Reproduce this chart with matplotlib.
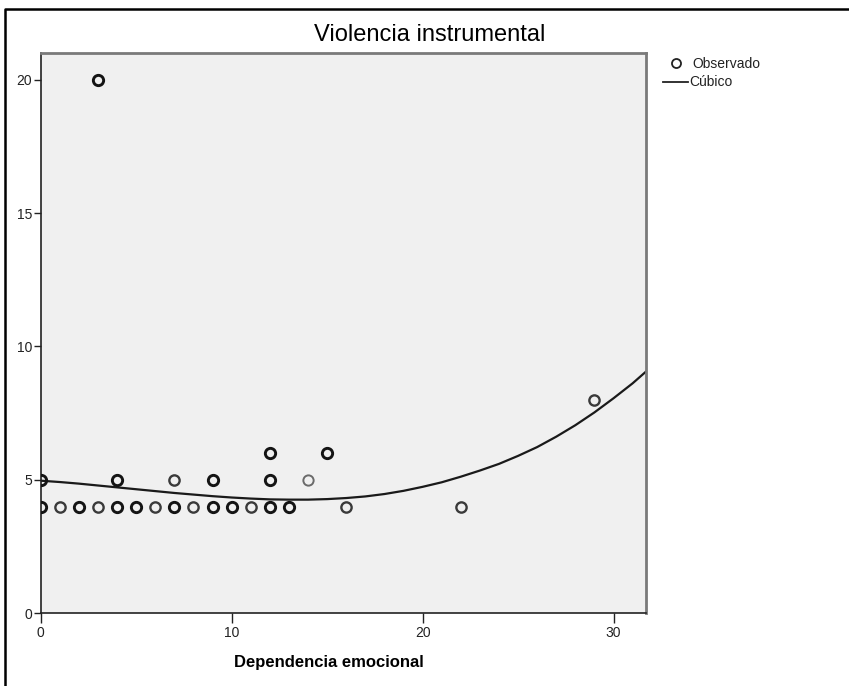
import matplotlib
matplotlib.use("Agg")
import matplotlib.pyplot as plt
from matplotlib.lines import Line2D

plt.rcParams['font.family'] = ['Liberation Sans', 'DejaVu Sans']

# Observed data (x = Dependencia emocional, y = Violencia instrumental)
obs_x = [0, 1, 2, 3, 4, 5, 6, 7, 8, 9, 10, 11, 12, 13, 16, 22,
         0, 4, 7, 9, 12, 14,
         12, 15,
         3, 29]
obs_y = [4, 4, 4, 4, 4, 4, 4, 4, 4, 4, 4, 4, 4, 4, 4, 4,
         5, 5, 5, 5, 5, 5,
         6, 6,
         20, 8]
# apparent overlap (1 = single, 2 = few, 3 = many)
obs_weight = [3, 2, 3, 2, 3, 3, 2, 3, 2, 3, 3, 2, 3, 3, 2, 2,
              3, 3, 2, 3, 3, 1,
              3, 3,
              3, 2]

# Cubic fit curve
curve_x = [0, 1, 2, 3, 4, 5, 6, 7, 8, 9, 10, 11, 12, 13, 14, 15, 16,
           17, 18, 19, 20, 21, 22, 23, 24, 25, 26, 27, 28, 29, 30, 31, 31.7]
curve_y = [4.97, 4.92, 4.86, 4.79, 4.72, 4.65, 4.58, 4.51, 4.45, 4.39,
           4.34, 4.30, 4.27, 4.26, 4.26, 4.28, 4.32, 4.38, 4.47, 4.59,
           4.74, 4.91, 5.12, 5.35, 5.60, 5.90, 6.23, 6.62, 7.05, 7.53,
           8.06, 8.62, 9.06]

x_ticks = [0, 10, 20, 30]
y_ticks = [0, 5, 10, 15, 20]

W, H = 849, 686
fig = plt.figure(figsize=(W / 100, H / 100), dpi=100)
fig.patch.set_facecolor('white')

# outer frame
fig.add_artist(Line2D([4.5 / W, 4.5 / W, 1.0], [0.0, 1 - 9 / H, 1 - 9 / H],
                      transform=fig.transFigure, color='black', lw=1.8))

left, right, top, bottom = 40.7, 646, 53, 613.3
ax = fig.add_axes([left / W, 1 - bottom / H, (right - left) / W, (bottom - top) / H])
ax.set_facecolor('#F0F0F0')

styles = {1: ('#6a6a6a', 1.4), 2: ('#3a3a3a', 1.7), 3: ('#141414', 2.1)}
for xv, yv, wv in zip(obs_x, obs_y, obs_weight):
    ec, lw = styles[wv]
    ax.plot(xv, yv, 'o', ms=7.4, mfc='none', mec=ec, mew=lw, zorder=3)

ax.plot(curve_x, curve_y, color='#1a1a1a', lw=1.6, zorder=2,
        solid_joinstyle='round')

ax.set_xlim(0, 31.7)
ax.set_ylim(0, 21.0)
ax.set_xticks(x_ticks)
ax.set_yticks(y_ticks)
ax.tick_params(axis='x', length=7, width=1, pad=2, labelsize=10, colors='#222222')
ax.tick_params(axis='y', length=5, width=1, pad=1, labelsize=10, colors='#222222')

for s in ['left', 'bottom']:
    ax.spines[s].set_color('#222222')
    ax.spines[s].set_linewidth(1.2)
for s in ['top', 'right']:
    ax.spines[s].set_color('#7a7a7a')
    ax.spines[s].set_linewidth(2.0)

fig.text(430 / W, 1 - 35 / H, 'Violencia instrumental', ha='center', va='center',
         fontsize=17, color='black')
fig.text(329 / W, 1 - 663 / H, 'Dependencia emocional', ha='center', va='center',
         fontsize=12, fontweight='bold', color='black')

# legend
fig.add_artist(Line2D([676 / W], [1 - 63 / H], transform=fig.transFigure,
                      marker='o', ms=6.5, mfc='none', mec='#222222', mew=1.3, ls='none'))
fig.text(692 / W, 1 - 64.5 / H, 'Observado', ha='left', va='center', fontsize=10, color='#222222')
fig.add_artist(Line2D([662.5 / W, 688 / W], [1 - 81.5 / H, 1 - 81.5 / H],
                      transform=fig.transFigure, color='#222222', lw=1.3))
fig.text(689.5 / W, 1 - 81.5 / H, 'Cúbico', ha='left', va='center', fontsize=10, color='#222222')

fig.savefig('out.png', dpi=100, facecolor='white')
